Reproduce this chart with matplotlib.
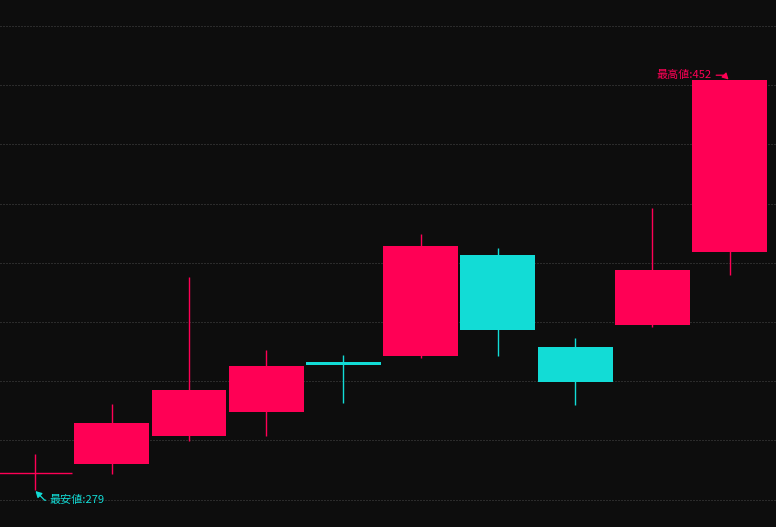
import matplotlib
matplotlib.use("Agg")
import matplotlib.pyplot as plt
import numpy as np

plt.rcParams['font.family'] = ['Noto Sans CJK JP', 'DejaVu Sans']

# data (open, close, low, high) per candle
labels = ["1", "2", "3", "4", "5", "6", "7", "8", "9", "10"]
opens  = [286.0, 290.0, 301.8, 312.0, 333.1, 335.6, 378.3, 339.4, 348.7, 379.6]
closes = [286.0, 307.3, 321.3, 331.4, 331.8, 382.1, 346.6, 324.6, 372.0, 452.0]
lows   = [279.0, 285.8, 299.7, 301.8, 315.8, 334.8, 335.6, 314.9, 347.9, 369.9]
highs  = [294.2, 315.3, 369.0, 338.2, 336.1, 387.2, 381.3, 343.2, 398.2, 452.0]
grid_levels = [275, 300, 325, 350, 375, 400, 425, 450, 475]

UP = "#ff0055"
DOWN = "#12dcd6"
BG = "#0d0d0d"
GRID = "#4a4a4a"

fig = plt.figure(figsize=(7.76, 5.27), dpi=100, facecolor=BG)
ax = fig.add_axes([0, 0, 1, 1])
ax.set_facecolor(BG)

x = np.arange(len(labels))
o = np.array(opens); c = np.array(closes)
colors = [UP if cc >= oo else DOWN for oo, cc in zip(o, c)]
width = 0.97

for yl in grid_levels:
    ax.axhline(yl, color=GRID, lw=0.72, ls=(0, (1, 2)), zorder=0)

ax.vlines(x, lows, highs, colors=colors, lw=1.0, zorder=2)
for xi, oo, cc, col in zip(x, o, c, colors):
    if abs(cc - oo) < 0.05:
        ax.hlines(oo, xi - width / 2, xi + width / 2, colors=col, lw=1.0, zorder=3)
    else:
        ax.bar(xi, cc - oo, bottom=oo, width=width, color=col, lw=0, zorder=3)

ax.set_xlim(-0.447, 9.602)
ax.set_ylim(263.4, 486.0)
ax.axis('off')

imin = int(np.argmin(lows)); imax = int(np.argmax(highs))
ax.annotate(f"最安値:{lows[imin]:g}", xy=(imin, lows[imin]), xytext=(11.0, -7.3),
            textcoords='offset points', color=DOWN, fontsize=8, ha='left', va='center',
            arrowprops=dict(arrowstyle='-|>,head_length=0.45,head_width=0.25', color=DOWN, lw=0.9,
                            connectionstyle='angle,angleA=0,angleB=-45,rad=0',
                            relpos=(0, 0.5), shrinkA=1, shrinkB=1, mutation_scale=8),
            zorder=5)
ax.annotate(f"最高値:{highs[imax]:g}", xy=(imax, highs[imax]), xytext=(-12.6, 3.8),
            textcoords='offset points', color=UP, fontsize=8, ha='right', va='center',
            arrowprops=dict(arrowstyle='-|>,head_length=0.45,head_width=0.25', color=UP, lw=0.9,
                            connectionstyle='angle,angleA=0,angleB=-45,rad=0',
                            relpos=(1, 0.5), shrinkA=1, shrinkB=1, mutation_scale=8),
            zorder=5)

fig.savefig("out.png", dpi=100, facecolor=BG)
